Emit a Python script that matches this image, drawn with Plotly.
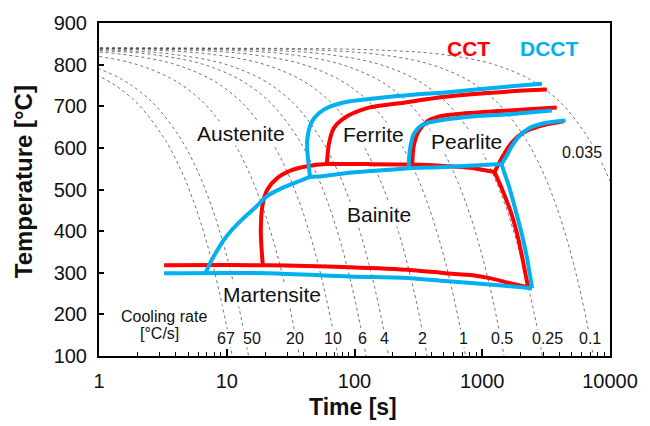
import math
import plotly.graph_objects as go

# ---------------- cooling curves (dotted), temperature levels shared ----------------
cool_T = [840, 838.5, 836.3, 832.6, 825.2, 803, 766, 729, 692, 618, 544, 470, 396, 322, 248, 174, 100]
t_67 = [0.001, 0.022, 0.055, 0.11, 0.22, 0.55, 1.10, 1.66, 2.21, 3.31, 4.42, 5.52, 6.62, 7.73, 8.83, 9.94, 11.04]
t_50 = [0.001, 0.030, 0.074, 0.148, 0.296, 0.74, 1.48, 2.22, 2.96, 4.44, 5.92, 7.40, 8.88, 10.36, 11.84, 13.32, 14.8]
t_20 = [0.001, 0.074, 0.185, 0.37, 0.74, 1.85, 3.7, 5.55, 7.4, 11.1, 14.8, 18.5, 22.2, 25.9, 29.6, 33.3, 37]
t_10 = [0.001, 0.148, 0.37, 0.74, 1.48, 3.7, 7.4, 11.1, 14.8, 22.2, 29.6, 37, 44.4, 51.8, 59.2, 66.6, 74]
t_6 = [0.001, 0.247, 0.617, 1.233, 2.47, 6.17, 12.33, 18.5, 24.67, 37, 49.3, 61.7, 74, 86.3, 98.7, 111, 123.3]
t_4 = [0.001, 0.37, 0.925, 1.85, 3.7, 9.25, 18.5, 27.75, 37, 55.5, 74, 92.5, 111, 129.5, 148, 166.5, 185]
t_2 = [0.001, 0.74, 1.85, 3.7, 7.4, 18.5, 37, 55.5, 74, 111, 148, 185, 222, 259, 296, 333, 370]
t_1 = [0.001, 1.48, 3.7, 7.4, 14.8, 37, 74, 111, 148, 222, 296, 370, 444, 518, 592, 666, 740]
t_05 = [0.001, 2.96, 7.4, 14.8, 29.6, 74, 148, 222, 296, 444, 592, 740, 888, 1036, 1184, 1332, 1480]
t_025 = [0.001, 5.92, 14.8, 29.6, 59.2, 148, 296, 444, 592, 888, 1184, 1480, 1776, 2072, 2368, 2664, 2960]
t_01 = [0.001, 14.8, 37, 74, 148, 370, 740, 1110, 1480, 2220, 2960, 3700, 4440, 5180, 5920, 6660, 7400]
t_0035 = [0.001, 46.25, 115.6, 231, 462.5, 1156, 2312, 3469, 4625, 6937, 9250, 11562]

# ---------------- CCT (red) lines ----------------
red_fs_t = [60.8, 63.0, 68.8, 82.3, 123.8, 222.6, 513, 1546, 3205]
red_fs_T = [561, 609, 647, 671, 695, 707, 723, 735, 740]
red_ps_t = [283, 290.6, 317.7, 372.7, 469.8, 732.8, 1249, 2130, 3828]
red_ps_T = [560, 604, 640, 664, 676, 683, 688, 692, 697]
red_bs_t = [19.14, 18.47, 19.14, 20.92, 24.98, 32.62, 42.59, 60.8, 123.8, 283, 531.9, 800.9, 1249]
red_bs_T = [318, 401, 466, 501, 528, 547, 556, 561, 561, 560, 556, 552, 542]
red_up_t = [1249, 1341, 1492, 1720, 2055, 2780, 4336]
red_up_T = [542, 561, 587, 614, 635, 652, 664]
red_down_t = [1249, 1414, 1690, 1913, 2092, 2287]
red_down_T = [542, 504, 442, 382, 325, 265]
red_ms_t = [3.23, 20.92, 91.5, 285.5, 513, 844.8, 1143, 1546, 2287]
red_ms_T = [318, 318, 313, 306, 299, 294, 287, 277, 265]

# ---------------- DCCT (blue) lines ----------------
blue_fs_t = [44.9, 42.6, 46.6, 57.6, 82.3, 147.9, 301, 513, 1546, 2933]
blue_fs_T = [530, 616, 664, 692, 709, 719, 728, 733, 747, 754]
blue_ps_t = [265, 270.6, 290.6, 347.2, 513.3, 875.3, 1492, 2327, 3503]
blue_ps_T = [551, 592, 633, 657, 668, 676, 680, 685, 690]
blue_bs_t = [6.82, 7.46, 8.15, 9.40, 10.83, 13.41, 16.90, 20.92, 27.31, 37.61, 44.9, 55.6, 91.5, 222.6, 265, 513, 1414]
blue_bs_T = [299, 325, 346, 377, 401, 430, 458, 485, 504, 521, 530, 532, 540, 549, 551, 554, 561]
blue_up_t = [1414, 1546, 1690, 1948, 2327, 3038, 4493]
blue_up_T = [561, 580, 602, 628, 647, 659, 666]
blue_down_t = [1414, 1631, 1847, 2055, 2246, 2455]
blue_down_T = [561, 504, 444, 389, 334, 263]
blue_ms_t = [3.23, 20.92, 91.5, 275.5, 513, 1143, 2455]
blue_ms_T = [299, 299, 291, 287, 280, 272, 263]

# ---------------- labels ----------------
rate_labels = ["67", "50", "20", "10", "6", "4", "2", "1", "0.5", "0.25", "0.1"]
rate_label_t = [9.91, 15.7, 34.4, 67.6, 115, 173, 341, 707, 1439, 3263, 7010]
rate_label_T = [143, 143, 143, 143, 143, 143, 143, 143, 143, 143, 143]
extra_rate_label = "0.035"
extra_rate_t = 6080
extra_rate_T = 590

region_labels = ["Austenite", "Ferrite", "Pearlite", "Bainite", "Martensite"]
region_t = [12.9, 140, 759, 156, 22.5]
region_T = [635, 633, 616, 439, 248]

x_tickvals = [1, 10, 100, 1000, 10000]
x_ticktext = ["1", "10", "100", "1000", "10000"]

RED = "#FF0000"
BLUE = "#00B0F0"
FONT = "Liberation Sans, Arial, sans-serif"

fig = go.Figure()

for tt in [t_67, t_50, t_20, t_10, t_6, t_4, t_2, t_1, t_05, t_025, t_01, t_0035]:
    fig.add_trace(go.Scatter(x=tt, y=cool_T[:len(tt)], mode="lines",
                             line=dict(color="#505050", width=0.8, dash="dot", shape="spline"),
                             hoverinfo="skip", showlegend=False))

for tt, TT in [(red_ms_t, red_ms_T), (red_bs_t, red_bs_T), (red_fs_t, red_fs_T), (red_ps_t, red_ps_T),
               (red_up_t, red_up_T), (red_down_t, red_down_T)]:
    fig.add_trace(go.Scatter(x=tt, y=TT, mode="lines",
                             line=dict(color=RED, width=4, shape="spline", smoothing=0.8),
                             showlegend=False))

for tt, TT in [(blue_ms_t, blue_ms_T), (blue_bs_t, blue_bs_T), (blue_fs_t, blue_fs_T), (blue_ps_t, blue_ps_T),
               (blue_up_t, blue_up_T), (blue_down_t, blue_down_T)]:
    fig.add_trace(go.Scatter(x=tt, y=TT, mode="lines",
                             line=dict(color=BLUE, width=4, shape="spline", smoothing=0.8),
                             showlegend=False))

ann = []
for txt, t, T in zip(rate_labels, rate_label_t, rate_label_T):
    ann.append(dict(x=math.log10(t), y=T, xref="x", yref="y", text=txt, showarrow=False,
                    font=dict(size=16, color="#111111", family=FONT), bgcolor="white", borderpad=0))
ann.append(dict(x=math.log10(extra_rate_t), y=extra_rate_T, xref="x", yref="y", text=extra_rate_label,
                showarrow=False, font=dict(size=16, color="#111111", family=FONT), bgcolor="white", borderpad=0))
for txt, t, T in zip(region_labels, region_t, region_T):
    ann.append(dict(x=math.log10(t), y=T, xref="x", yref="y", text=txt, showarrow=False,
                    font=dict(size=21, color="#111111", family=FONT), bgcolor="white", borderpad=0))
ann.append(dict(x=math.log10(3.23), y=196, xref="x", yref="y", text="Cooling rate", showarrow=False,
                font=dict(size=16, color="#111111", family=FONT)))
ann.append(dict(x=math.log10(2.96), y=155, xref="x", yref="y", text="[°C/s]", showarrow=False,
                font=dict(size=16, color="#111111", family=FONT)))
ann.append(dict(x=math.log10(787), y=838, xref="x", yref="y", text="<b>CCT</b>", showarrow=False,
                font=dict(size=21, color=RED, family=FONT)))
ann.append(dict(x=math.log10(3320), y=838, xref="x", yref="y", text="<b>DCCT</b>", showarrow=False,
                font=dict(size=21, color=BLUE, family=FONT)))
ann.append(dict(x=0.498, y=-0.153, xref="paper", yref="paper", text="<b>Time [s]</b>", showarrow=False,
                font=dict(size=23, color="#111111", family=FONT), yanchor="middle"))
ann.append(dict(x=-0.1486, y=0.522, xref="paper", yref="paper", text="<b>Temperature [°C]</b>",
                showarrow=False, textangle=-90,
                font=dict(size=24, color="#111111", family=FONT), xanchor="center", yanchor="middle"))

fig.update_layout(
    width=650, height=426,
    margin=dict(l=99, r=33, t=21, b=70),
    paper_bgcolor="white", plot_bgcolor="white",
    annotations=ann,
    showlegend=False,
    font=dict(family=FONT, size=20, color="#111111"),
)
fig.update_xaxes(type="log", range=[0, 4], tickvals=x_tickvals, ticktext=x_ticktext,
                 ticks="inside", ticklen=7, tickwidth=1.5, tickcolor="black",
                 showline=True, linewidth=2, linecolor="black", mirror=True,
                 showgrid=False, zeroline=False, ticklabelstandoff=6,
                 tickfont=dict(size=20, family=FONT, color="#111111"),
                 minor=dict(ticks="inside", ticklen=4, tickwidth=1.2, tickcolor="black",
                            dtick="D1", showgrid=False))
fig.update_yaxes(range=[100, 900], dtick=100, ticks="inside", ticklen=5, tickwidth=1.5,
                 tickcolor="black", showline=True, linewidth=2, linecolor="black", mirror=True,
                 showgrid=False, zeroline=False, ticklabelstandoff=6,
                 tickfont=dict(size=20, family=FONT, color="#111111"))

fig.write_html("out.html", config={"displayModeBar": False},
               post_script="document.body.style.margin='0px';document.body.style.overflow='hidden';")
